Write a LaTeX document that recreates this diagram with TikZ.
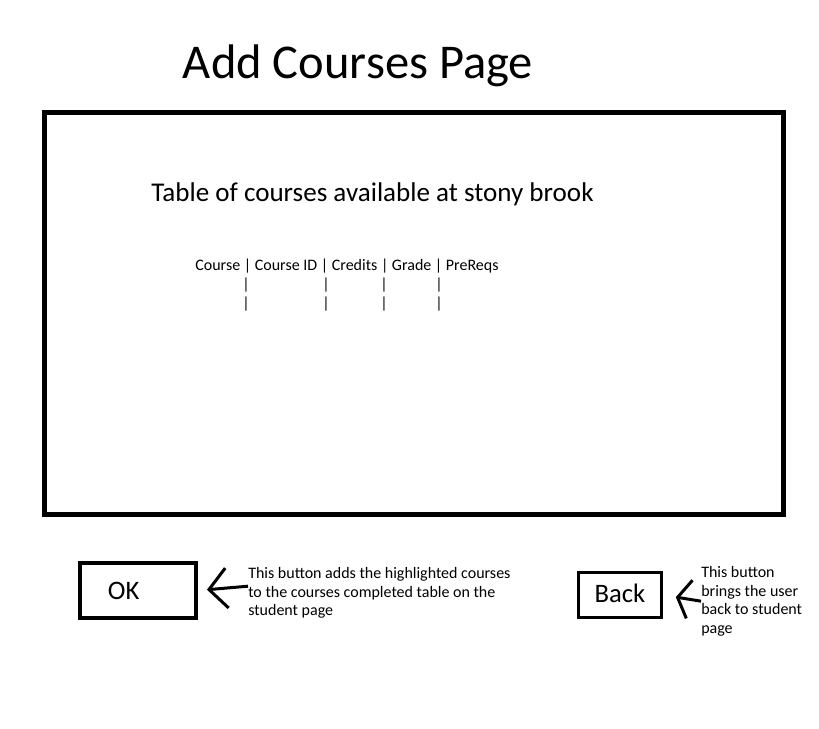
\documentclass[tikz,border=0pt]{standalone}
\usepackage{fontspec}
\setmainfont{Carlito}
\usetikzlibrary{positioning,arrows.meta}

\begin{document}
\begin{tikzpicture}[
  x=0.75pt,y=-0.75pt,
  frame/.style={draw,line width=3.75pt,minimum width=554.25pt,minimum height=301.5pt,inner sep=0pt},
  btn/.style={draw,inner sep=0pt,font=\fontsize{20}{24}\selectfont},
  note/.style={align=left,inner sep=0pt,anchor=north west,font=\fontsize{12}{14}\selectfont},
  bar/.style={inner sep=0pt,anchor=base,font=\fontsize{12}{14}\selectfont},
  arr/.style={-{Straight Barb[length=13.5pt,width=30pt]},line width=2.25pt}
]
\useasboundingbox (0,0) rectangle (819,729);

\node[anchor=base,font=\fontsize{36.4}{40}\selectfont] (title) at (358,78) {Add Courses Page};
\node[frame] (page) at (414,313.5) {};
\node[anchor=base,font=\fontsize{20.3}{24}\selectfont] (tabtitle) at (372.5,201) {Table of courses available at stony brook};
\node[bar] (header) at (347,270) {Course | Course ID | Credits | Grade | PreReqs};
\foreach \x [count=\i] in {246,326,384,439}{
  \node[bar] (rowa\i) at (\x,289) {|};
  \node[bar] (rowb\i) at (\x,308) {|};
}

% buttons
\node[btn,line width=3pt,minimum width=87pt,minimum height=41.25pt,text width=45pt,inner xsep=21pt,align=left] (ok) at (138,590.5) {OK};
\node[btn,line width=2.25pt,minimum width=62.25pt,minimum height=33.75pt] (back) at (620,595) {\raisebox{2pt}{Back}};

\node[note] (okdesc) at (248,567) {This button adds the highlighted courses\\to the courses completed table on the\\student page};
\node[note] (backdesc) at (701,566) {This button\\brings the user\\back to student\\page};

\draw[arr,shorten >=6.75pt] ([yshift=5pt]okdesc.west) -- (ok.east);
\draw[arr,-{Straight Barb[length=9pt,width=29pt]},shorten >=9.75pt] (backdesc.west) -- (back.east);
\end{tikzpicture}
\end{document}
